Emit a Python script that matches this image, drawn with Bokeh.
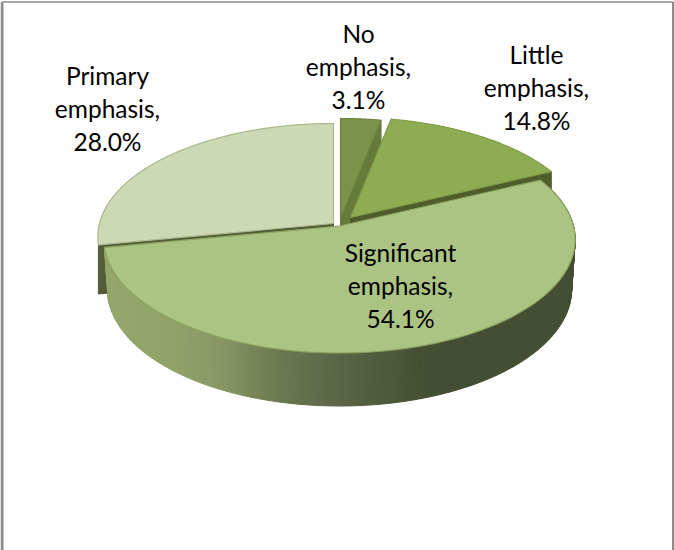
import numpy as np
from bokeh.core.properties import value
from bokeh.embed import file_html
from bokeh.models import Range1d
from bokeh.plotting import figure
from bokeh.resources import INLINE

categories = ["No emphasis", "Little emphasis", "Significant emphasis", "Primary emphasis"]
label_words = ["No\nemphasis", "Little\nemphasis", "Significant\nemphasis", "Primary\nemphasis"]
shares = [3.1, 14.8, 54.1, 28.0]

top_colors = ["#7c9149", "#8ead53", "#abc383", "#cdd8b5"]
edge_colors = ["#6f8340", "#7f9b48", "#8aa35c", "#a9b98a"]
cut_colors = ["#667a3a", "#4f5d2b", "#4f5d2b", "#525c38"]

# Apex of each exploded slice on the page
apex_x = [340, 350, 339, 333]
apex_y = [218, 217, 225.5, 223]
label_x = [358, 536, 400, 107]
label_y = [66, 87, 285, 108]

# Tilted-disc projection: the far rim is slightly narrower than the near rim
RX, RY, TILT = 234.0, 111.9, 0.119
DEPTH = 49

# Shading of the wall along the page's x direction
wall_x = [100, 170, 215, 280, 340, 430, 580]
wall_r = [150, 146, 138, 108, 90, 68, 68]
wall_g = [168, 163, 152, 120, 101, 78, 78]
wall_b = [107, 104, 102, 80, 70, 50, 50]


def project(theta):
    u, v = np.sin(theta), np.cos(theta)
    w = 1 + TILT * v
    return RX * u / w, -RY * v / w, v


def rim(i, a, b, n=120):
    t = np.linspace(a, b, n)
    dx, dy, v = project(t)
    return apex_x[i] + dx, apex_y[i] + dy, v


def lower(x, y, v, cx):
    return cx + (x - cx) * 0.985, y + DEPTH - 4 * v


edges = np.radians(np.concatenate([[0], np.cumsum(shares)]) * 3.6)

p = figure(width=674, height=550, output_backend="svg", toolbar_location=None,
           x_range=Range1d(0, 674), y_range=Range1d(550, 0), min_border=0,
           background_fill_color="white", border_fill_color="white", outline_line_color=None)
p.axis.visible = False
p.grid.visible = False

# Frame around the chart area
p.line([1.5, 1.5], [550, 1.5], line_color="#8c8c8c", line_width=3)
p.line([1.5, 672.5], [1.5, 1.5], line_color="#a6a6a6", line_width=2)
p.line([672.5, 672.5], [1.5, 550], line_color="#8c8c8c", line_width=2)


def cut_face(i, angle):
    dx, dy, v = project(np.array([angle]))
    ex, ey = apex_x[i] + dx[0], apex_y[i] + dy[0]
    p.patch([apex_x[i], ex, ex, apex_x[i]],
            [apex_y[i], ey, ey + DEPTH, apex_y[i] + DEPTH],
            fill_color=cut_colors[i], line_color=cut_colors[i], line_width=1)


def top_face(i):
    x, y, _ = rim(i, edges[i], edges[i + 1])
    p.patch(np.r_[apex_x[i], x], np.r_[apex_y[i], y], fill_color=top_colors[i],
            line_color=edge_colors[i], line_width=1.2, line_join="round")


# Slices are painted from the back of the pie to the front
cut_face(3, edges[3])
top_face(3)

cut_face(0, edges[1])
top_face(0)

cut_face(1, edges[2])
top_face(1)

# Outer wall of the large slice, split into strips for its horizontal shading
i = 2
x, y, v = rim(i, edges[2], edges[3], 240)
bx, by = lower(x, y, v, apex_x[i])
xs, ys, fills = [], [], []
for k in range(len(x) - 1):
    mid = (x[k] + x[k + 1]) / 2
    r = int(np.interp(mid, wall_x, wall_r))
    g = int(np.interp(mid, wall_x, wall_g))
    b = int(np.interp(mid, wall_x, wall_b))
    xs.append([x[k], x[k + 1], bx[k + 1], bx[k]])
    ys.append([y[k], y[k + 1], by[k + 1], by[k]])
    fills.append(f"#{r:02x}{g:02x}{b:02x}")
p.patches(xs, ys, fill_color=fills, line_color=fills, line_width=1)
top_face(2)

labels = [f"{word},\n{share:.1f}%" for word, share in zip(label_words, shares)]
p.text(label_x, label_y, text=labels, text_font=value("Lato"), text_font_size="24.5px",
       text_color="#000000", text_align="center", text_baseline="middle", text_line_height=1.14)

open("out.html", "w").write(file_html(p, INLINE))
